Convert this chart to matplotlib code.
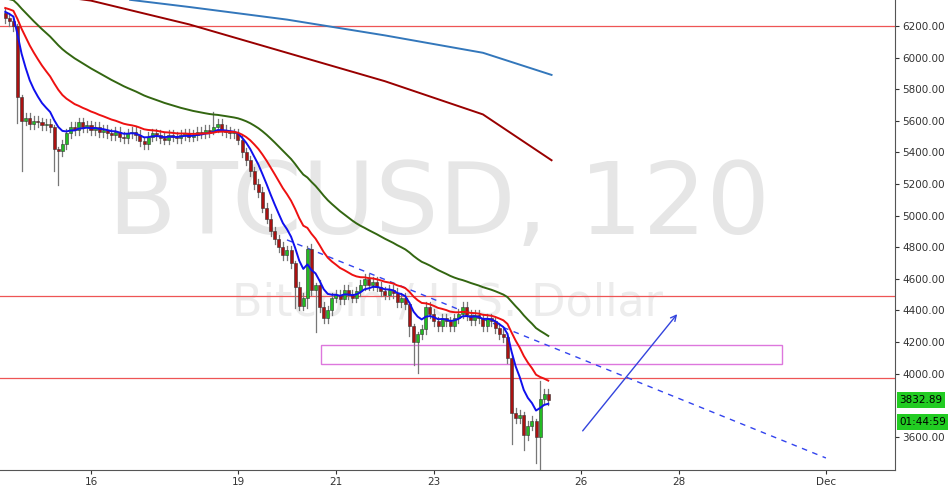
import numpy as np
import matplotlib.pyplot as plt

# 2-hour closes, Nov 14 .. Nov 25
closes = [6250, 6230, 6200, 5750, 5600, 5620, 5580, 5600, 5590, 5570,
          5580, 5560, 5420, 5410, 5450, 5520, 5560, 5540, 5590, 5560,
          5570, 5540, 5560, 5530, 5540, 5520, 5510, 5530, 5500, 5490,
          5520, 5530, 5510, 5470, 5450, 5500, 5520, 5510, 5490, 5480,
          5510, 5500, 5490, 5510, 5520, 5500, 5510, 5530, 5520, 5540,
          5530, 5560, 5580, 5540, 5530, 5520, 5520, 5480, 5400, 5350,
          5280, 5200, 5150, 5050, 4980, 4900, 4850, 4800, 4750, 4780,
          4700, 4550, 4430, 4480, 4790, 4530, 4560, 4420, 4350, 4400,
          4480, 4500, 4470, 4530, 4500, 4480, 4520, 4560, 4600, 4560,
          4580, 4550, 4520, 4500, 4530, 4510, 4450, 4480, 4440, 4300,
          4200, 4250, 4280, 4420, 4380, 4330, 4300, 4350, 4330, 4300,
          4350, 4380, 4420, 4370, 4340, 4370, 4350, 4300, 4350, 4330,
          4290, 4250, 4230, 4100, 3750, 3720, 3740, 3610, 3670, 3700,
          3600, 3840, 3870, 3833]
# notable wicks: index -> (extra above, extra below)
big_wicks = {3: (0, 150), 4: (0, 300), 12: (0, 120), 13: (0, 200),
             51: (80, 0), 71: (0, 120), 74: (0, 50), 76: (0, 250),
             99: (0, 50), 100: (0, 130), 101: (0, 180), 124: (0, 180),
             127: (0, 80), 130: (0, 150), 131: (100, 200)}

# long moving averages (day, price)
ma200_days = [14.1, 16.0, 18.0, 20.0, 22.0, 24.0, 25.4]
ma200_vals = [6440, 6360, 6210, 6030, 5850, 5640, 5350]
ma400_days = [16.8, 18.0, 20.0, 22.0, 24.0, 25.4]
ma400_vals = [6365, 6320, 6240, 6140, 6030, 5890]

hlines = [6200, 4490, 3970]
zone = (20.7, 30.1, 4060, 4180)
trend = ((20.0, 4846), (31.0, 3466))
arrow = ((26.0, 3624), (28.0, 4390))

tick_days = [16, 19, 21, 23, 26, 28, 31]
tick_names = ['16', '19', '21', '23', '26', '28', 'Dec']
price_ticks = [3600, 4000, 4200, 4400, 4600, 4800, 5000, 5200, 5400, 5600, 5800, 6000, 6200]

fig = plt.figure(figsize=(9.48, 4.92), dpi=100)
ax = fig.add_axes([0, 22 / 492, 895 / 948, 470 / 492])
ax.set_xlim(14.143, 32.41)
ax.set_ylim(3390, 6364)

ax.text(0.49, 0.56, 'BTCUSD, 120', transform=ax.transAxes, ha='center', va='center',
        fontsize=72, color='#e6e6e6', zorder=0)
ax.text(0.50, 0.355, 'Bitcoin / U.S. Dollar', transform=ax.transAxes, ha='center', va='center',
        fontsize=32, color='#ececec', zorder=0)

c = np.array(closes, dtype=float)
o = np.concatenate([[6280], c[:-1]])
days = 14.25 + np.arange(len(c)) / 12
for i in range(len(c)):
    up, dn = big_wicks.get(i, (15, 15))
    hi = max(o[i], c[i]) + up + 15
    lo = min(o[i], c[i]) - dn - 15
    col = '#22bb22' if c[i] >= o[i] else '#aa1111'
    ax.plot([days[i], days[i]], [lo, hi], color='#777777', lw=0.9, zorder=3)
    h = max(abs(c[i] - o[i]), 8)
    ax.bar(days[i], h, bottom=min(o[i], c[i]), width=0.062, color=col,
           edgecolor='#333333', linewidth=0.4, zorder=4)


def ema(vals, n, seed):
    out, e, k = [], seed, 2 / (n + 1)
    for v in vals:
        e = e + k * (v - e)
        out.append(e)
    return np.array(out)


ax.plot(days, ema(c, 8, 6300), color='#1010ee', lw=1.4, zorder=5)
ax.plot(days, ema(c, 20, 6320), color='#ee1111', lw=1.4, zorder=5)
ax.plot(days, ema(c, 50, 6380), color='#336611', lw=1.4, zorder=5)
ax.plot(ma200_days, ma200_vals, color='#990000', lw=1.4, zorder=5)
ax.plot(ma400_days, ma400_vals, color='#3377bb', lw=1.4, zorder=5)

for y in hlines:
    ax.axhline(y, color='#ee5555', lw=0.9, zorder=2)
ax.add_patch(plt.Rectangle((zone[0], zone[2]), zone[1] - zone[0], zone[3] - zone[2],
                           fill=False, edgecolor='#dd77dd', lw=1, zorder=2))
ax.plot([trend[0][0], trend[1][0]], [trend[0][1], trend[1][1]], color='#3344ee',
        lw=1, ls=(0, (4, 4)), zorder=2)
ax.annotate('', xy=arrow[1], xytext=arrow[0],
            arrowprops=dict(arrowstyle='->', color='#3344dd', lw=1))

ax.set_xticks(tick_days)
ax.set_xticklabels(tick_names)
ax.yaxis.tick_right()
ax.set_yticks(price_ticks)
ax.set_yticklabels(['%.2f' % v for v in price_ticks])
ax.tick_params(labelsize=7.5, colors='#333333', length=3, pad=2)
for s in ['top', 'left']:
    ax.spines[s].set_visible(False)
ax.spines['right'].set_color('#555555')
ax.spines['bottom'].set_color('#555555')

ylast = (3833 - 3390) / (6364 - 3390)
ax.text(1.005, ylast, '3832.89', transform=ax.transAxes, va='center',
        fontsize=7.5, color='black', bbox=dict(boxstyle='square,pad=0.25', fc='#22cc22', ec='none'))
ax.text(1.005, ylast - 0.047, '01:44:59', transform=ax.transAxes, va='center',
        fontsize=7.5, color='black', bbox=dict(boxstyle='square,pad=0.25', fc='#22cc22', ec='none'))

fig.savefig('out.png', dpi=100)
